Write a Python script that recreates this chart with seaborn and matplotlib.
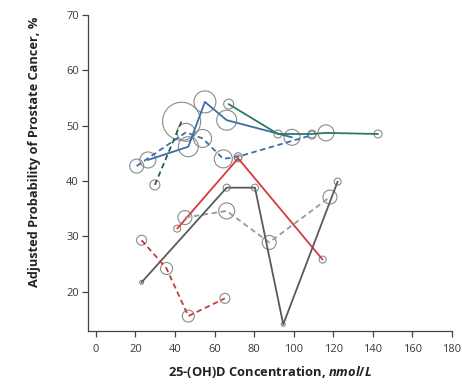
import matplotlib
matplotlib.use("Agg")
import matplotlib.pyplot as plt
import seaborn as sns
import pandas as pd

# ---- data ----
blue_solid_x = [26.3, 46.7, 55.1, 66.1, 99.1]
blue_solid_y = [43.8, 46.2, 54.3, 51.0, 47.9]
blue_solid_w = [8, 10, 11, 10, 8]

teal_solid_x = [67.1, 92.0, 109.2, 116.3, 142.6]
teal_solid_y = [53.9, 48.5, 48.5, 48.7, 48.5]
teal_solid_w = [5, 4, 4, 8, 4]

blue_dash_x = [20.6, 45.5, 53.9, 64.4, 71.9, 109.2]
blue_dash_y = [42.7, 48.8, 47.7, 44.0, 44.4, 48.3]
blue_dash_w = [7, 9, 9, 9, 4, 4]

green_dash_x = [29.8, 43.3]
green_dash_y = [39.3, 50.8]
green_dash_w = [5, 19]

red_solid_x = [41.1, 71.9, 114.6]
red_solid_y = [31.4, 44.1, 25.8]
red_solid_w = [3.5, 3.5, 3.5]

gray_dash_x = [45.0, 66.1, 87.6, 118.3]
gray_dash_y = [33.4, 34.6, 28.9, 37.1]
gray_dash_w = [7, 8, 7, 7]

gray_solid_x = [23.1, 66.1, 80.4, 94.7, 122.2]
gray_solid_y = [21.7, 38.8, 38.8, 14.1, 39.9]
gray_solid_w = [2, 3.5, 3.5, 2, 3.5]

red_dash_x = [23.1, 35.7, 46.7, 65.2]
red_dash_y = [29.3, 24.2, 15.6, 18.8]
red_dash_w = [5, 6, 6, 5]

x_ticks = [0, 20, 40, 60, 80, 100, 120, 140, 160, 180]
y_ticks = [20, 30, 40, 50, 60, 70]

series = [
    ("blue_solid", blue_solid_x, blue_solid_y, blue_solid_w, "#3b6ea8", "-"),
    ("teal_solid", teal_solid_x, teal_solid_y, teal_solid_w, "#2b7a60", "-"),
    ("blue_dash", blue_dash_x, blue_dash_y, blue_dash_w, "#3b6ea8", "--"),
    ("green_dash", green_dash_x, green_dash_y, green_dash_w, "#2a5c4c", "--"),
    ("red_solid", red_solid_x, red_solid_y, red_solid_w, "#d8393c", "-"),
    ("gray_dash", gray_dash_x, gray_dash_y, gray_dash_w, "#999999", "--"),
    ("gray_solid", gray_solid_x, gray_solid_y, gray_solid_w, "#5a5a5a", "-"),
    ("red_dash", red_dash_x, red_dash_y, red_dash_w, "#c8383a", "--"),
]

frames = []
for name, xs, ys, ws, c, ls in series:
    frames.append(pd.DataFrame({"x": xs, "y": ys, "w": ws, "series": name}))
df = pd.concat(frames, ignore_index=True)
df["area"] = (2 * df["w"] * 0.72) ** 2

sns.set_theme(style="white")
plt.rcParams["font.family"] = ["Open Sans", "DejaVu Sans"]
plt.rcParams["mathtext.fontset"] = "custom"
plt.rcParams["mathtext.it"] = "Open Sans:italic:bold"
plt.rcParams["mathtext.rm"] = "Open Sans:bold"

fig = plt.figure(figsize=(4.62, 3.84), dpi=100)
ax = fig.add_axes([88 / 462, 1 - 331 / 384, (452 - 88) / 462, (331 - 15) / 384])

amin, amax = df["area"].min(), df["area"].max()
sns.scatterplot(data=df, x="x", y="y", size="area", sizes=(amin, amax),
                size_norm=(amin, amax), facecolor="none", edgecolor="#8a8a8a",
                linewidth=0.8, legend=False, ax=ax, zorder=2)

for name, xs, ys, ws, c, ls in series:
    sub = df[df["series"] == name]
    kw = dict(dashes=(3.0, 2.0)) if ls == "--" else {}
    line = sns.lineplot(data=sub, x="x", y="y", sort=False, estimator=None,
                        color=c, linewidth=1.3, ax=ax, zorder=3)
    if ls == "--":
        ax.lines[-1].set_dashes((3.0, 2.0))

ax.set_xlim(-4, 180)
ax.set_ylim(12.9, 70)
ax.set_xticks(x_ticks)
ax.set_yticks(y_ticks)
ax.tick_params(axis="both", direction="out", length=4.5, width=0.9, color="#444444",
               labelsize=8, labelcolor="#3a3a3a", pad=2, bottom=True, left=True)
ax.tick_params(axis="x", pad=5)
for s in ["top", "right"]:
    ax.spines[s].set_visible(False)
for s in ["left", "bottom"]:
    ax.spines[s].set_color("#444444")
    ax.spines[s].set_linewidth(0.9)

ax.set_xlabel("25-(OH)D Concentration, $nmol/L$", fontsize=9.3, fontweight="bold",
              color="#222222", labelpad=6)
ax.set_ylabel("Adjusted Probability of Prostate Cancer, %", fontsize=9.2,
              fontweight="bold", color="#222222")
ax.yaxis.set_label_coords(-0.128, 0.568)

fig.savefig("out.png", dpi=100)
